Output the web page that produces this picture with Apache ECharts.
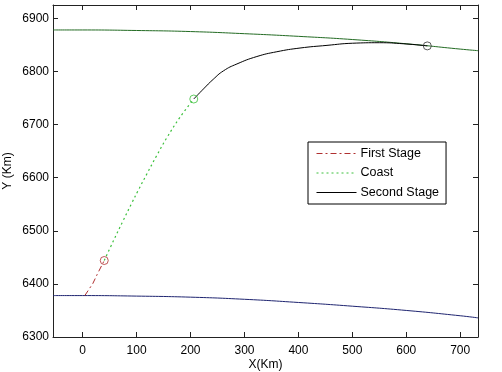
<!DOCTYPE html>
<html><head><meta charset="utf-8">
<script src="https://cdn.jsdelivr.net/npm/echarts@6/dist/echarts.min.js"></script>
<style>html,body{margin:0;padding:0;background:#fff}#c{width:502px;height:372px}</style>
</head><body><div id="c"></div>
<script>
// tick labels
const xTicks = [0, 100, 200, 300, 400, 500, 600, 700];
const yTicks = [6300, 6400, 6500, 6600, 6700, 6800, 6900];
// orbit circle (upper green)
const orbitX = [-55, 0, 100, 200, 300, 400, 500, 600, 700, 733];
const orbitY = [6878, 6878, 6877, 6875, 6871, 6866, 6860, 6852, 6842, 6839];
// earth surface (lower blue)
const earthX = [-55, 0, 100, 200, 300, 400, 500, 600, 700, 733];
const earthY = [6378, 6378, 6377, 6375, 6371, 6365, 6358, 6350, 6340, 6336];
// first stage
const firstX = [4, 19, 27, 40];
const firstY = [6378, 6401, 6418, 6444];
// coast
const coastX = [40, 57, 75, 91, 103, 119, 137, 156, 180, 206];
const coastY = [6444, 6481, 6519, 6552, 6576, 6607, 6641, 6675, 6713, 6748];
// second stage
const secondX = [206, 224, 242, 261, 286, 323, 360, 403, 453, 500, 550, 595, 639];
const secondY = [6748, 6767, 6785, 6801, 6814, 6828, 6837, 6844, 6849, 6853, 6854, 6852, 6848];
// stage end points
const endNames = ['First Stage end', 'Coast end', 'Second Stage end'];
const endX = [40, 206, 639];
const endY = [6444, 6748, 6848];

const zip = (a, b) => a.map((v, i) => [v, b[i]]);
const FONT = 'Liberation Sans';
const AX = '#222';

const chart = echarts.init(document.getElementById('c'), null, {renderer: 'canvas'});
const baseX = {
  type: 'value', min: -55, max: 733,
  axisLine: {show: true, onZero: false, lineStyle: {color: AX, width: 1}},
  axisTick: {show: true, inside: true, length: 5, lineStyle: {color: AX}, customValues: xTicks},
  splitLine: {show: false}
};
const baseY = {
  type: 'value', min: 6300, max: 6925,
  axisLine: {show: true, onZero: false, lineStyle: {color: AX, width: 1}},
  axisTick: {show: true, inside: true, length: 5, lineStyle: {color: AX}, customValues: yTicks},
  splitLine: {show: false}
};
const markerColors = ['#b03030', '#3cc03c', '#333333'];
const option = {
  backgroundColor: '#fff',
  animation: false,
  grid: {left: 53, right: 24, top: 5, bottom: 35, containLabel: false, outerBoundsMode: 'none'},
  xAxis: [
    Object.assign({}, baseX, {
      position: 'bottom',
      axisLabel: {show: true, customValues: xTicks, formatter: v => String(v), color: '#000', fontFamily: FONT, fontSize: 12, margin: 8},
      name: 'X(Km)', nameLocation: 'middle', nameGap: 22, nameMoveOverlap: false,
      nameTextStyle: {color: '#000', fontFamily: FONT, fontSize: 12}
    }),
    Object.assign({}, baseX, {position: 'top', axisLabel: {show: false}})
  ],
  yAxis: [
    Object.assign({}, baseY, {
      position: 'left',
      axisLabel: {show: true, customValues: yTicks, formatter: v => String(v), color: '#000', fontFamily: FONT, fontSize: 12, margin: 4},
      name: 'Y (Km)', nameLocation: 'middle', nameGap: 39, nameMoveOverlap: false,
      nameTextStyle: {color: '#000', fontFamily: FONT, fontSize: 12}
    }),
    Object.assign({}, baseY, {position: 'right', axisLabel: {show: false}})
  ],
  legend: {
    show: true, orient: 'vertical', left: 308, top: 142,
    data: ['First Stage', 'Coast', 'Second Stage'],
    itemWidth: 40, itemHeight: 12, itemGap: 6.5,
    padding: [5, 7, 5, 8],
    borderColor: '#000', borderWidth: 1, backgroundColor: '#fff',
    itemStyle: {opacity: 0},
    lineStyle: {width: 1},
    textStyle: {color: '#000', fontFamily: FONT, fontSize: 12.5, padding: [0, 0, 0, -1]},
    selectedMode: false
  },
  series: [
    {name: 'orbit', type: 'line', data: zip(orbitX, orbitY), smooth: 0.5, symbol: 'none',
     lineStyle: {color: '#236b23', width: 1}, z: 2},
    {name: 'earth', type: 'line', data: zip(earthX, earthY), smooth: 0.5, symbol: 'none',
     lineStyle: {color: '#1e2470', width: 1}, z: 2},
    {name: 'First Stage', type: 'line', data: zip(firstX, firstY), symbol: 'none',
     itemStyle: {color: '#b03030'},
     lineStyle: {color: '#b03030', width: 1, type: [6, 3, 2, 3]}, z: 3},
    {name: 'Coast', type: 'line', data: zip(coastX, coastY), smooth: 0.4, symbol: 'none',
     itemStyle: {color: '#3cc03c'},
     lineStyle: {color: '#3cc03c', width: 1.2, type: [2, 3]}, z: 3},
    {name: 'Second Stage', type: 'line', data: zip(secondX, secondY), smooth: 0.5, symbol: 'none',
     itemStyle: {color: '#000'},
     lineStyle: {color: '#000', width: 1}, z: 3},
    {name: 'ends', type: 'scatter', symbol: 'circle', symbolSize: 8, z: 4,
     data: endX.map((x, i) => ({name: endNames[i], value: [x, endY[i]],
       itemStyle: {color: 'transparent', borderColor: markerColors[i], borderWidth: 1}}))}
  ]
};
chart.setOption(option);
</script>
</body></html>
